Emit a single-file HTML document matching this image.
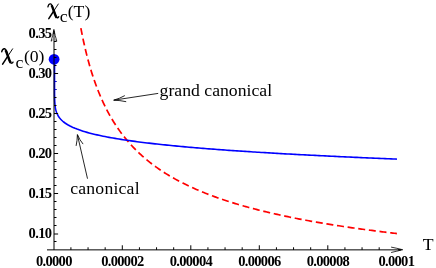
<!DOCTYPE html>
<html><head><meta charset="utf-8"><style>
html,body{margin:0;padding:0;background:#fff;}
svg{display:block}
text{font-family:"Liberation Serif",serif;fill:#000}
.tk{font-weight:bold;font-size:14.5px;letter-spacing:-0.67px}
.lb{font-size:17.7px}
</style></head><body>
<svg width="436" height="268" viewBox="0 0 436 268" style="will-change:transform">
<rect width="436" height="268" fill="#fff"/>
<path d="M80.85,28.04 L82.35,35.68 L83.85,42.74 L85.35,49.29 L86.85,55.38 L88.35,61.07 L89.85,66.40 L91.35,71.41 L92.85,76.12 L94.35,80.57 L95.85,84.78 L97.35,88.76 L98.85,92.55 L100.35,96.15 L101.85,99.58 L103.35,102.85 L104.85,105.98 L106.35,108.97 L107.85,111.84 L109.35,114.59 L110.85,117.23 L112.35,119.76 L113.85,122.20 L115.35,124.55 L116.85,126.82 L118.35,129.01 L119.85,131.12 L121.35,133.16 L122.85,135.13 L124.35,137.05 L125.85,138.90 L127.35,140.69 L128.85,142.43 L130.35,144.12 L131.85,145.75 L133.35,147.35 L134.85,148.89 L136.35,150.40 L137.85,151.86 L139.35,153.29 L140.85,154.68 L142.35,156.03 L143.85,157.35 L145.35,158.64 L146.85,159.89 L148.35,161.12 L149.85,162.31 L151.35,163.48 L152.85,164.62 L154.35,165.74 L155.85,166.83 L157.35,167.90 L158.85,168.95 L160.35,169.97 L161.85,170.97 L163.35,171.95 L164.85,172.91 L166.35,173.85 L167.85,174.77 L169.35,175.68 L170.85,176.57 L172.35,177.44 L173.85,178.29 L175.35,179.13 L176.85,179.95 L178.35,180.76 L179.85,181.55 L181.35,182.33 L182.85,183.10 L184.35,183.85 L185.85,184.59 L187.35,185.31 L188.85,186.03 L190.35,186.73 L191.85,187.42 L193.35,188.10 L194.85,188.77 L196.35,189.43 L197.85,190.08 L199.35,190.72 L200.85,191.35 L202.35,191.96 L203.85,192.57 L205.35,193.17 L206.85,193.77 L208.35,194.35 L209.85,194.92 L211.35,195.49 L212.85,196.05 L214.35,196.60 L215.85,197.14 L217.35,197.68 L218.85,198.21 L220.35,198.73 L221.85,199.24 L223.35,199.75 L224.85,200.25 L226.35,200.74 L227.85,201.23 L229.35,201.71 L230.85,202.18 L232.35,202.65 L233.85,203.12 L235.35,203.57 L236.85,204.03 L238.35,204.47 L239.85,204.91 L241.35,205.35 L242.85,205.78 L244.35,206.20 L245.85,206.62 L247.35,207.04 L248.85,207.45 L250.35,207.85 L251.85,208.26 L253.35,208.65 L254.85,209.04 L256.35,209.43 L257.85,209.82 L259.35,210.20 L260.85,210.57 L262.35,210.94 L263.85,211.31 L265.35,211.67 L266.85,212.03 L268.35,212.39 L269.85,212.74 L271.35,213.09 L272.85,213.43 L274.35,213.77 L275.85,214.11 L277.35,214.44 L278.85,214.78 L280.35,215.10 L281.85,215.43 L283.35,215.75 L284.85,216.07 L286.35,216.38 L287.85,216.69 L289.35,217.00 L290.85,217.31 L292.35,217.61 L293.85,217.91 L295.35,218.21 L296.85,218.50 L298.35,218.80 L299.85,219.08 L301.35,219.37 L302.85,219.66 L304.35,219.94 L305.85,220.22 L307.35,220.49 L308.85,220.77 L310.35,221.04 L311.85,221.31 L313.35,221.57 L314.85,221.84 L316.35,222.10 L317.85,222.36 L319.35,222.62 L320.85,222.88 L322.35,223.13 L323.85,223.38 L325.35,223.63 L326.85,223.88 L328.35,224.12 L329.85,224.37 L331.35,224.61 L332.85,224.85 L334.35,225.08 L335.85,225.32 L337.35,225.55 L338.85,225.78 L340.35,226.01 L341.85,226.24 L343.35,226.47 L344.85,226.69 L346.35,226.92 L347.85,227.14 L349.35,227.36 L350.85,227.58 L352.35,227.79 L353.85,228.01 L355.35,228.22 L356.85,228.43 L358.35,228.64 L359.85,228.85 L361.35,229.06 L362.85,229.26 L364.35,229.47 L365.85,229.67 L367.35,229.87 L368.85,230.07 L370.35,230.27 L371.85,230.46 L373.35,230.66 L374.85,230.85 L376.35,231.04 L377.85,231.24 L379.35,231.42 L380.85,231.61 L382.35,231.80 L383.85,231.99 L385.35,232.17 L386.85,232.35 L388.35,232.54 L389.85,232.72 L391.35,232.90 L392.85,233.08 L394.35,233.25 L395.85,233.43 L396.90,233.55" stroke="#f00" stroke-width="1.7" fill="none" stroke-dasharray="7.0 3.73" stroke-dashoffset="0"/>
<path d="M54.55,62.00 L54.50,78.00 L54.50,79.00 L54.50,80.00 L54.50,81.00 L54.50,82.00 L54.50,83.00 L54.50,84.00 L54.50,85.00 L54.50,86.00 L54.50,87.00 L54.50,88.00 L54.50,89.00 L54.51,90.00 L54.51,91.00 L54.51,92.00 L54.52,93.00 L54.53,94.00 L54.54,95.00 L54.55,96.00 L54.57,97.00 L54.59,98.00 L54.62,99.00 L54.66,100.00 L54.70,101.00 L54.76,102.00 L54.82,103.00 L54.90,104.00 L55.00,105.00 L55.12,106.00 L55.26,107.00 L55.42,108.00 L55.62,109.00 L55.85,110.00 L56.12,111.00 L56.44,112.00 L56.80,113.00 L57.23,114.00 L57.72,115.00 L58.28,116.00 L58.93,117.00 L59.66,118.00 L60.50,119.00 L61.44,120.00 L62.51,121.00 L63.70,122.00 L65.04,123.00 L66.53,124.00 L68.19,125.00 L70.03,126.00 L72.06,127.00 L73.06,127.46 L75.06,128.32 L77.06,129.11 L79.06,129.84 L81.06,130.53 L83.06,131.18 L85.06,131.79 L87.06,132.37 L89.06,132.92 L91.06,133.45 L93.06,133.95 L95.06,134.43 L97.06,134.90 L99.06,135.34 L101.06,135.77 L103.06,136.18 L105.06,136.58 L107.06,136.97 L109.06,137.35 L111.06,137.71 L113.06,138.06 L115.06,138.41 L117.06,138.74 L119.06,139.07 L121.06,139.39 L123.06,139.70 L125.06,140.00 L127.06,140.29 L129.06,140.58 L131.06,140.86 L133.06,141.14 L135.06,141.41 L137.06,141.68 L139.06,141.94 L141.06,142.19 L143.06,142.44 L145.06,142.69 L147.06,142.93 L149.06,143.16 L151.06,143.39 L153.06,143.62 L155.06,143.85 L157.06,144.07 L159.06,144.29 L161.06,144.50 L163.06,144.71 L165.06,144.92 L167.06,145.12 L169.06,145.32 L171.06,145.52 L173.06,145.72 L175.06,145.91 L177.06,146.10 L179.06,146.29 L181.06,146.48 L183.06,146.66 L185.06,146.84 L187.06,147.02 L189.06,147.19 L191.06,147.37 L193.06,147.54 L195.06,147.71 L197.06,147.88 L199.06,148.04 L201.06,148.21 L203.06,148.37 L205.06,148.53 L207.06,148.69 L209.06,148.84 L211.06,149.00 L213.06,149.15 L215.06,149.30 L217.06,149.45 L219.06,149.60 L221.06,149.75 L223.06,149.90 L225.06,150.04 L227.06,150.18 L229.06,150.33 L231.06,150.47 L233.06,150.60 L235.06,150.74 L237.06,150.88 L239.06,151.01 L241.06,151.15 L243.06,151.28 L245.06,151.41 L247.06,151.54 L249.06,151.67 L251.06,151.80 L253.06,151.93 L255.06,152.05 L257.06,152.18 L259.06,152.30 L261.06,152.43 L263.06,152.55 L265.06,152.67 L267.06,152.79 L269.06,152.91 L271.06,153.03 L273.06,153.14 L275.06,153.26 L277.06,153.38 L279.06,153.49 L281.06,153.61 L283.06,153.72 L285.06,153.83 L287.06,153.94 L289.06,154.05 L291.06,154.16 L293.06,154.27 L295.06,154.38 L297.06,154.49 L299.06,154.59 L301.06,154.70 L303.06,154.81 L305.06,154.91 L307.06,155.02 L309.06,155.12 L311.06,155.22 L313.06,155.32 L315.06,155.42 L317.06,155.53 L319.06,155.63 L321.06,155.73 L323.06,155.82 L325.06,155.92 L327.06,156.02 L329.06,156.12 L331.06,156.21 L333.06,156.31 L335.06,156.40 L337.06,156.50 L339.06,156.59 L341.06,156.69 L343.06,156.78 L345.06,156.87 L347.06,156.96 L349.06,157.06 L351.06,157.15 L353.06,157.24 L355.06,157.33 L357.06,157.42 L359.06,157.51 L361.06,157.59 L363.06,157.68 L365.06,157.77 L367.06,157.86 L369.06,157.94 L371.06,158.03 L373.06,158.12 L375.06,158.20 L377.06,158.29 L379.06,158.37 L381.06,158.45 L383.06,158.54 L385.06,158.62 L387.06,158.70 L389.06,158.79 L391.06,158.87 L393.06,158.95 L395.06,159.03 L396.90,159.09" stroke="#00f" stroke-width="1.6" fill="none"/>
<circle cx="54.1" cy="59.3" r="5.4" fill="#00f"/>
<g stroke="#000" stroke-width="1" fill="none">
<line x1="47" y1="249.87" x2="401" y2="249.87"/>
<line x1="54" y1="249.87" x2="54" y2="31"/>
<line x1="70.92" y1="249.87" x2="70.92" y2="247.27"/><line x1="88.05" y1="249.87" x2="88.05" y2="247.27"/><line x1="105.17" y1="249.87" x2="105.17" y2="247.27"/><line x1="122.30" y1="249.87" x2="122.30" y2="245.27"/><line x1="139.43" y1="249.87" x2="139.43" y2="247.27"/><line x1="156.55" y1="249.87" x2="156.55" y2="247.27"/><line x1="173.68" y1="249.87" x2="173.68" y2="247.27"/><line x1="190.80" y1="249.87" x2="190.80" y2="245.27"/><line x1="207.93" y1="249.87" x2="207.93" y2="247.27"/><line x1="225.05" y1="249.87" x2="225.05" y2="247.27"/><line x1="242.18" y1="249.87" x2="242.18" y2="247.27"/><line x1="259.30" y1="249.87" x2="259.30" y2="245.27"/><line x1="276.43" y1="249.87" x2="276.43" y2="247.27"/><line x1="293.55" y1="249.87" x2="293.55" y2="247.27"/><line x1="310.68" y1="249.87" x2="310.68" y2="247.27"/><line x1="327.80" y1="249.87" x2="327.80" y2="245.27"/><line x1="344.93" y1="249.87" x2="344.93" y2="247.27"/><line x1="362.05" y1="249.87" x2="362.05" y2="247.27"/><line x1="379.18" y1="249.87" x2="379.18" y2="247.27"/><line x1="54" y1="241.50" x2="56.50" y2="241.50"/><line x1="54" y1="234.00" x2="58.10" y2="234.00"/><line x1="54" y1="225.50" x2="56.50" y2="225.50"/><line x1="54" y1="217.50" x2="56.50" y2="217.50"/><line x1="54" y1="209.50" x2="56.50" y2="209.50"/><line x1="54" y1="201.50" x2="56.50" y2="201.50"/><line x1="54" y1="193.50" x2="58.10" y2="193.50"/><line x1="54" y1="185.50" x2="56.50" y2="185.50"/><line x1="54" y1="177.50" x2="56.50" y2="177.50"/><line x1="54" y1="169.50" x2="56.50" y2="169.50"/><line x1="54" y1="161.50" x2="56.50" y2="161.50"/><line x1="54" y1="153.50" x2="58.10" y2="153.50"/><line x1="54" y1="145.50" x2="56.50" y2="145.50"/><line x1="54" y1="137.50" x2="56.50" y2="137.50"/><line x1="54" y1="129.50" x2="56.50" y2="129.50"/><line x1="54" y1="121.50" x2="56.50" y2="121.50"/><line x1="54" y1="113.50" x2="58.10" y2="113.50"/><line x1="54" y1="105.50" x2="56.50" y2="105.50"/><line x1="54" y1="97.50" x2="56.50" y2="97.50"/><line x1="54" y1="89.50" x2="56.50" y2="89.50"/><line x1="54" y1="81.50" x2="56.50" y2="81.50"/><line x1="54" y1="73.50" x2="58.10" y2="73.50"/><line x1="54" y1="65.50" x2="56.50" y2="65.50"/><line x1="54" y1="57.50" x2="56.50" y2="57.50"/><line x1="54" y1="49.50" x2="56.50" y2="49.50"/><line x1="54" y1="41.50" x2="56.50" y2="41.50"/>
<path d="M391.1,247.1 Q396.8,248.2 402.7,249.72 Q396.8,251.2 391.1,252.5" stroke-width="0.8"/><path d="M398.2,248.92000000000002 L402.7,249.72 L398.2,250.52 Z" fill="#000" stroke="none"/>
<path d="M52.6,39.9 L51.1,41.2 Q52.9,35.5 53.9,29.4 Q55,35.5 56.8,41.2 L55.3,39.9" stroke-width="0.8"/><path d="M53.2,34 L53.9,29.4 L54.7,34 Z" fill="#000" stroke="none"/>
</g>
<g stroke="#00f" stroke-width="1" fill="none">
<line x1="54.5" y1="81.50" x2="56.4" y2="81.50"/>
<line x1="54.5" y1="89.50" x2="56.4" y2="89.50"/>
</g>
<text x="51.3" y="37.60" text-anchor="end" class="tk">0.35</text><text x="51.3" y="77.60" text-anchor="end" class="tk">0.30</text><text x="51.3" y="117.60" text-anchor="end" class="tk">0.25</text><text x="51.3" y="157.60" text-anchor="end" class="tk">0.20</text><text x="51.3" y="197.60" text-anchor="end" class="tk">0.15</text><text x="51.3" y="237.60" text-anchor="end" class="tk">0.10</text>
<text x="53.85" y="266.1" text-anchor="middle" class="tk">0.0000</text><text x="122.35" y="266.1" text-anchor="middle" class="tk">0.00002</text><text x="190.85" y="266.1" text-anchor="middle" class="tk">0.00004</text><text x="259.35" y="266.1" text-anchor="middle" class="tk">0.00006</text><text x="327.85" y="266.1" text-anchor="middle" class="tk">0.00008</text><text x="396.35" y="266.1" text-anchor="middle" class="tk">0.0001</text>
<g stroke="#000" stroke-width="0.85" fill="none">
<line x1="158.2" y1="93.4" x2="114.2" y2="100.1"/>
<path d="M124.8,95.6 Q119.5,98.6 113.6,100.2 Q120,100.3 126.2,101.7"/>
<line x1="87.5" y1="178.7" x2="77.5" y2="135.2"/>
<path d="M76.1,145.9 Q77.3,140.5 77.4,134.5 Q79.6,140 83.1,144.1"/>
</g>
<text x="159.6" y="96.3" class="lb">grand canonical</text>
<text x="70.2" y="194.1" class="lb" style="letter-spacing:0.2px">canonical</text>
<g transform="translate(0,-0.1) scale(1,1.03)" fill="none" stroke="#000" stroke-linecap="round">
<path d="M47.9,6.7 C48.4,4.7 49.6,3.7 50.7,3.9 C51.9,4.2 52.5,6.3 53.4,9.3 L55.5,15.0 C56.1,16.7 56.9,17.5 57.7,17.3 C58.2,17.2 58.5,16.8 58.7,16.3" stroke-width="1.3"/>
<path d="M51.6,5.2 C52.2,6.3 52.7,7.6 53.4,9.6 L55.4,14.9 C55.8,15.9 56.2,16.6 56.7,17.0" stroke-width="2.4" stroke-linecap="butt"/>
<path d="M58.3,4.0 L53.6,11.0" stroke-width="0.9"/>
<path d="M53.6,11.0 L48.8,18.2" stroke-width="1.5"/>
</g>
<text x="59.8" y="21.5" class="lb">c</text>
<text x="67.7" y="16.8" class="lb">(T)</text>
<g transform="translate(-48.6,44.5) scale(1.05,1.08)" fill="none" stroke="#000" stroke-linecap="round">
<path d="M47.9,6.7 C48.4,4.7 49.6,3.7 50.7,3.9 C51.9,4.2 52.5,6.3 53.4,9.3 L55.5,15.0 C56.1,16.7 56.9,17.5 57.7,17.3 C58.2,17.2 58.5,16.8 58.7,16.3" stroke-width="1.3"/>
<path d="M51.6,5.2 C52.2,6.3 52.7,7.6 53.4,9.6 L55.4,14.9 C55.8,15.9 56.2,16.6 56.7,17.0" stroke-width="2.4" stroke-linecap="butt"/>
<path d="M58.3,4.0 L53.6,11.0" stroke-width="0.9"/>
<path d="M53.6,11.0 L48.8,18.2" stroke-width="1.5"/>
</g>
<text x="15.5" y="68.3" class="lb">c</text>
<text x="23.9" y="62" class="lb">(0)</text>
<text x="422.8" y="249.8" class="lb">T</text>
</svg>
</body></html>
